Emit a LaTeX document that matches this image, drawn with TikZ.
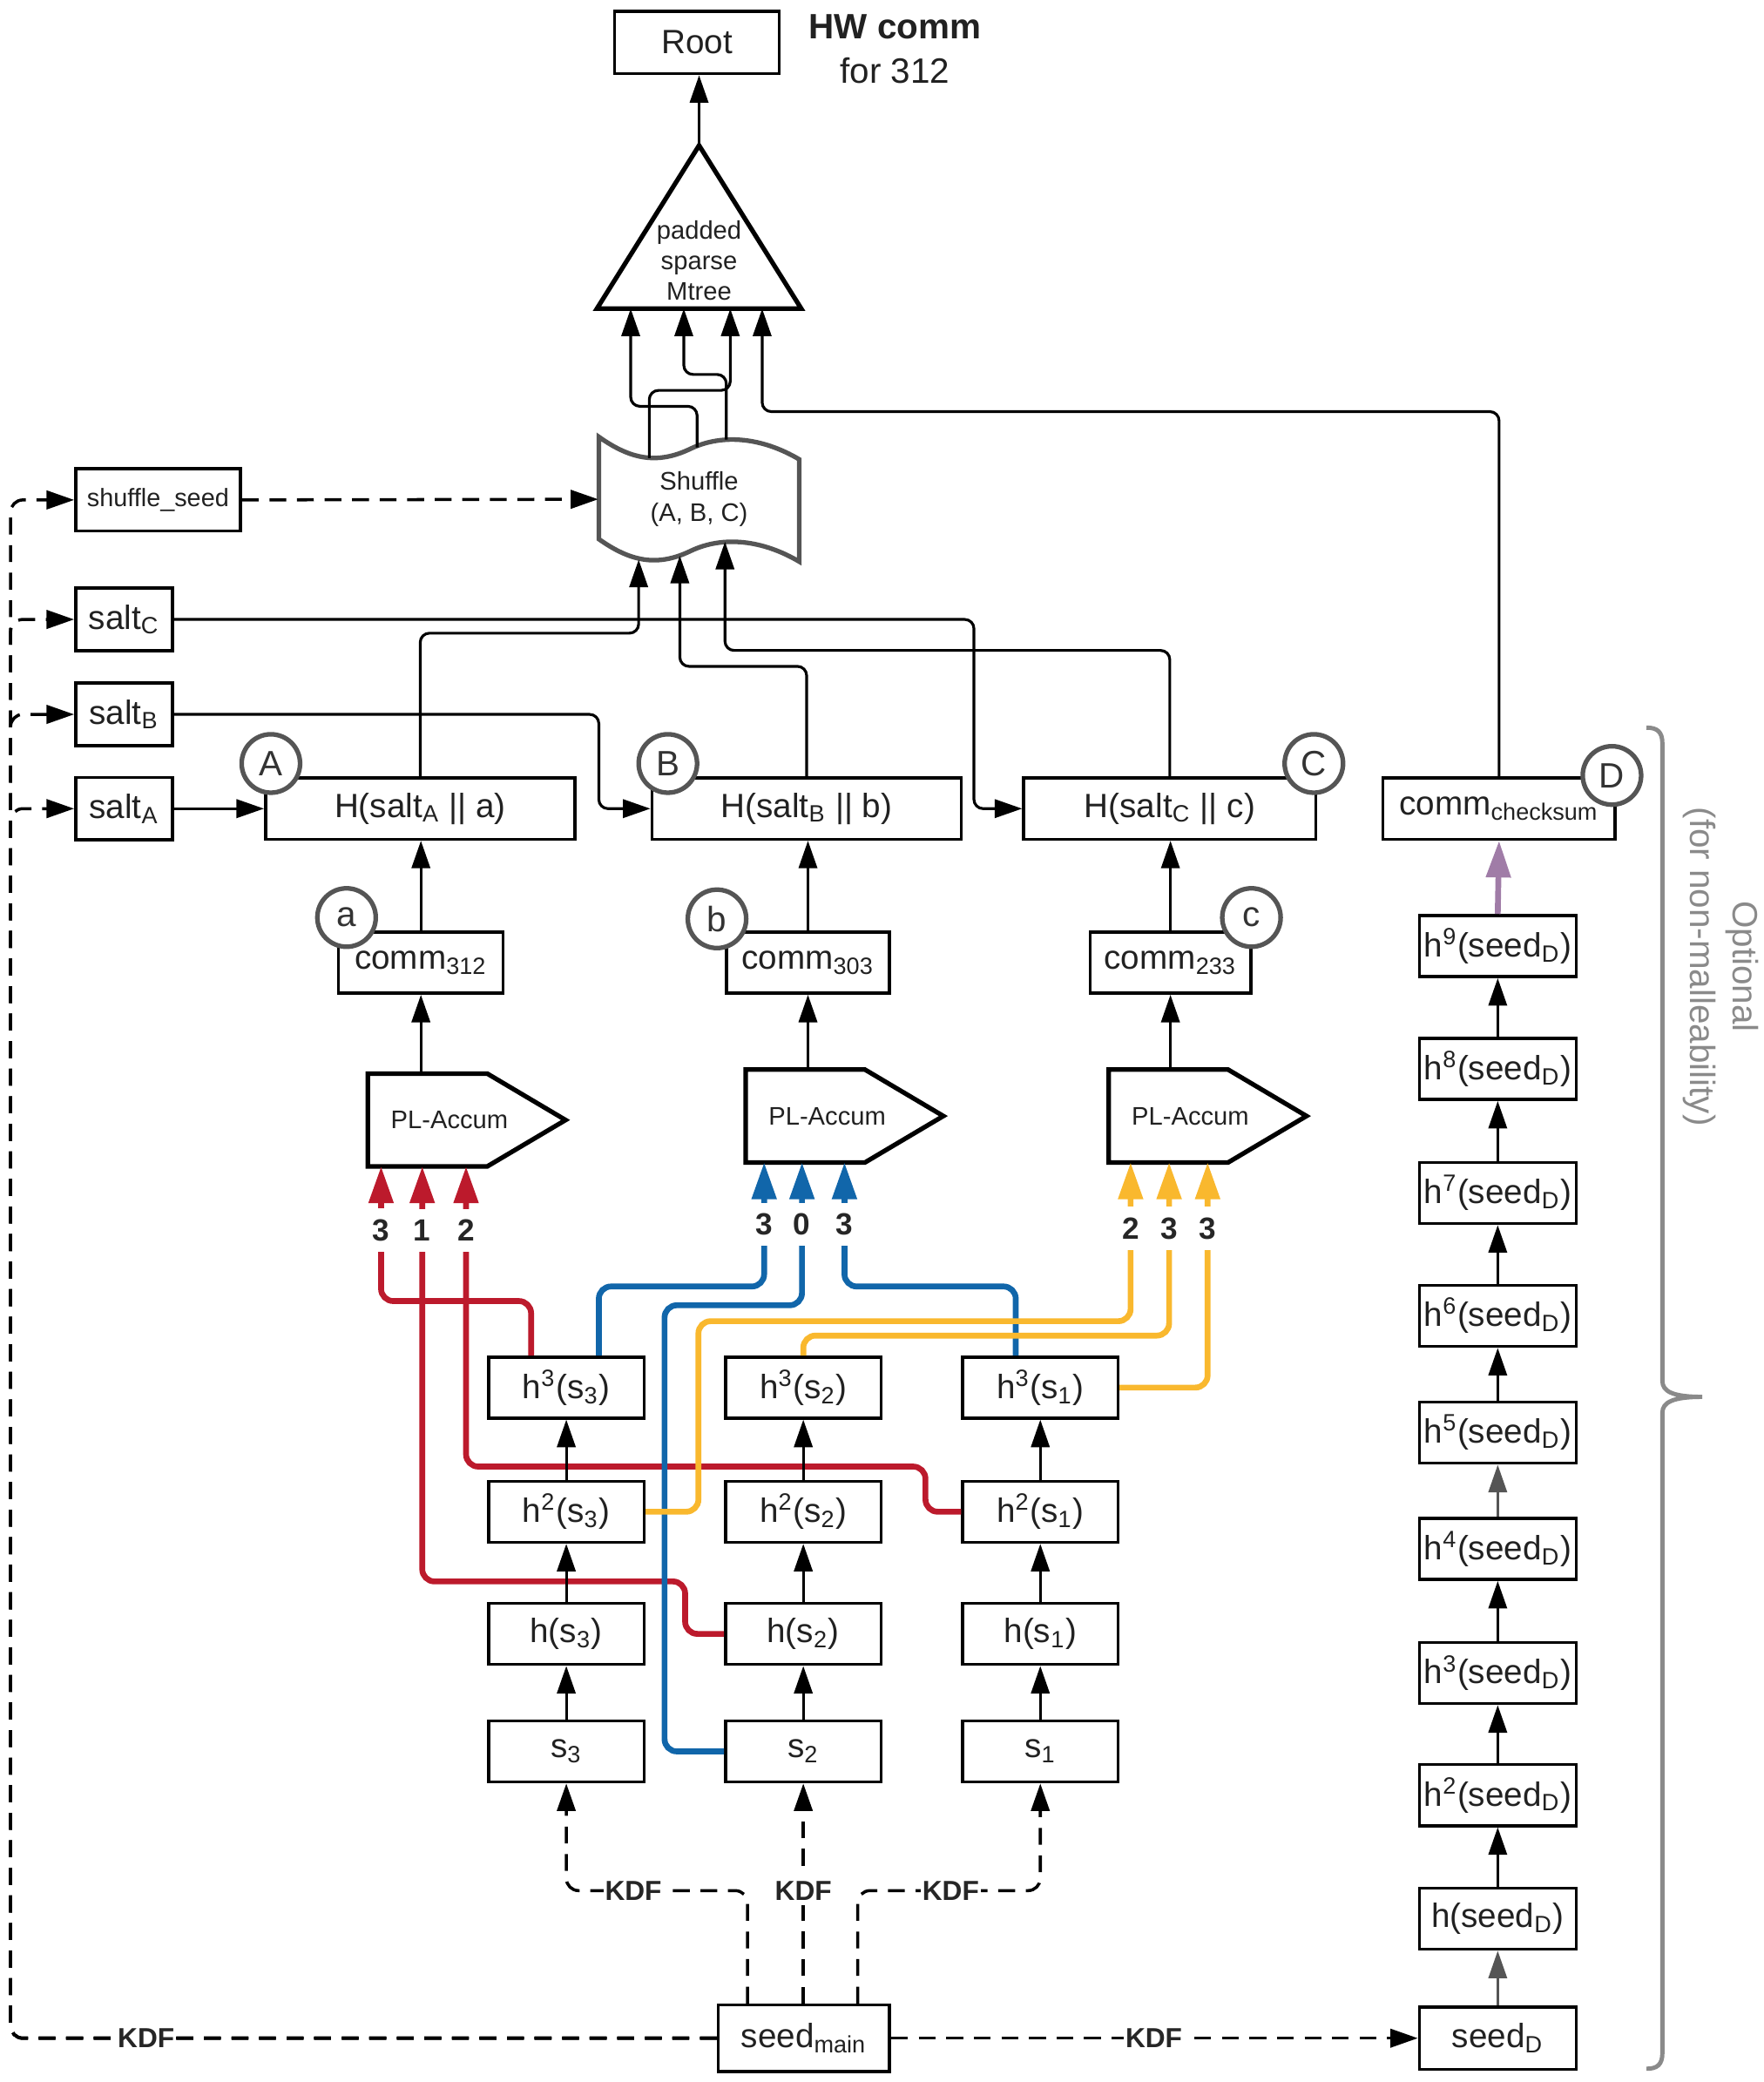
\documentclass[tikz,border=0pt]{standalone}
\usepackage{fontspec}
\setmainfont{Liberation Sans}
\usetikzlibrary{arrows.meta,calc}
\newcommand{\pu}{0.43365pt}
\definecolor{accred}{HTML}{BC1A2C}
\definecolor{accblue}{HTML}{1166AA}
\definecolor{accyellow}{HTML}{F9B82E}
\definecolor{chkpurple}{HTML}{A07CA7}
\definecolor{markgray}{HTML}{555555}
\definecolor{bracegray}{HTML}{8A8A8A}
\tikzset{
  box/.style={draw, line width=1pt, minimum height=46*\pu, inner sep=0pt, text=black!87, font=\fontsize{11}{13}\selectfont},
  chain/.style={box, minimum width=117*\pu},
  dchain/.style={box, minimum width=118*\pu},
  tagcirc/.style={circle, draw=markgray, line width=1.5pt, fill=white, minimum size=44*\pu, inner sep=0pt, text=black!80, font=\fontsize{11.5}{13}\selectfont},
  conn/.style={line width=0.9pt, rounded corners=3pt},
  arr/.style={conn, -{Triangle[length=9pt,width=6pt]}},
  kdfline/.style={line width=1pt, dash pattern=on 5.5pt off 3.5pt, rounded corners=4pt},
  plbox/.style={minimum width=148*\pu, minimum height=69*\pu, inner sep=0pt, label={[font=\fontsize{8.3}{10}\selectfont, text=black!87, xshift=-13*\pu]center:PL-Accum}},
  pent/.style={line width=1.5pt, line join=miter},
  feed/.style={line width=1.9pt, rounded corners=4pt, -{Triangle[length=12pt,width=7.8pt]}},
  num/.style={fill=white, inner xsep=1pt, inner ysep=3.5pt, text=black!85, font=\bfseries\fontsize{10}{11}\selectfont},
  kdflab/.style={fill=white, inner xsep=0.5pt, inner ysep=1.5pt, text=black!85, font=\bfseries\fontsize{9}{11}\selectfont},
}

\begin{document}
\begin{tikzpicture}[x=\pu, y=-\pu]
  \useasboundingbox (0,0) rectangle (1328,1568);
  % root and tree
  \node[box, minimum width=124*\pu, minimum height=47*\pu] (root) at (525,32) {Root};
  \node[align=center, text=black!87, font=\fontsize{11.5}{14.3}\selectfont] (hwcomm) at (674,37) {\textbf{HW comm}\\for 312};
  \node[minimum width=153*\pu, minimum height=122*\pu, inner sep=0pt] (mtree) at (526.5,171) {};
  \draw[line width=1.5pt, line join=miter] (mtree.south west) -- (mtree.north) -- (mtree.south east) -- cycle;
  \node[align=center, text=black!87, font=\fontsize{8.3}{10}\selectfont] (mtreetext) at (526.5,196) {padded\\sparse\\Mtree};
  % shuffle
  \node[align=center, text=black!87, font=\fontsize{8.3}{10.4}\selectfont, minimum width=151*\pu, minimum height=77*\pu, inner sep=0pt] (shuf) at (526.5,376) {Shuffle\\(A, B, C)};
  \begin{scope}[shift={(shuf.center)}]
    \draw[markgray, line width=1.5pt] (-75.5,-47) .. controls (-51.5,-30) and (-31.5,-26) .. (-6.5,-38)
      .. controls (18.5,-50) and (48.5,-46) .. (75.5,-30) -- (75.5,47)
      .. controls (48.5,31) and (18.5,27) .. (-6.5,39)
      .. controls (-31.5,51) and (-51.5,47) .. (-75.5,30) -- cycle;
    \coordinate (shufinA) at (-45.5,45.5);
    \coordinate (shufinB) at (-14.5,42.5);
    \coordinate (shufinC) at (19.5,32);
    \coordinate (shufoutA) at (-37.5,-31);
    \coordinate (shufoutB) at (-1.5,-39);
    \coordinate (shufoutC) at (20.5,-45);
  \end{scope}
  % seeds and salts
  \node[box, minimum width=124*\pu, minimum height=47*\pu, font=\fontsize{8.2}{10}\selectfont] (sseed) at (119,376.5) {shuffle\_seed};
  \node[box, minimum width=73*\pu, minimum height=47*\pu] (saltC) at (93.5,466.5) {salt\textsubscript{C}};
  \node[box, minimum width=73*\pu, minimum height=47*\pu] (saltB) at (93.5,538) {salt\textsubscript{B}};
  \node[box, minimum width=73*\pu, minimum height=47*\pu] (saltA) at (93.5,609) {salt\textsubscript{A}};
  % hashes
  \node[box, minimum width=233*\pu] (hA) at (316.5,609) {H(salt\textsubscript{A} || a)};
  \node[box, minimum width=233*\pu] (hB) at (607.5,609) {H(salt\textsubscript{B} || b)};
  \node[box, minimum width=220*\pu] (hC) at (881,609) {H(salt\textsubscript{C} || c)};
  \node[box, minimum width=124*\pu] (cA) at (317,725) {comm\textsubscript{312}};
  \node[box, minimum width=123*\pu] (cB) at (608.5,725) {comm\textsubscript{303}};
  \node[box, minimum width=121*\pu] (cC) at (881.5,725) {comm\textsubscript{233}};
  \node[box, minimum width=175*\pu] (chk) at (1129,609) {comm\textsubscript{checksum}};
  % accumulators
  \node[plbox] (plA) at (351.5,843.5) {};
  \node[plbox] (plB) at (636,840.5) {};
  \node[plbox] (plC) at (909.5,840.5) {};
  \draw[pent] (plA.north west) -- ($(plA.north east)+(-59,0)$) -- (plA.east) -- ($(plA.south east)+(-59,0)$) -- (plA.south west) -- cycle;
  \draw[pent] (plB.north west) -- ($(plB.north east)+(-59,0)$) -- (plB.east) -- ($(plB.south east)+(-59,0)$) -- (plB.south west) -- cycle;
  \draw[pent] (plC.north west) -- ($(plC.north east)+(-59,0)$) -- (plC.east) -- ($(plC.south east)+(-59,0)$) -- (plC.south west) -- cycle;
  % hash chains
  \node[chain] (h3s3) at (426.5,1045) {h\textsuperscript{3}(s\textsubscript{3})};
  \node[chain] (h2s3) at (426.5,1138.5) {h\textsuperscript{2}(s\textsubscript{3})};
  \node[chain] (hs3) at (426.5,1230.5) {h(s\textsubscript{3})};
  \node[chain] (s3) at (426.5,1319) {s\textsubscript{3}};
  \node[chain] (h3s2) at (605,1045) {h\textsuperscript{3}(s\textsubscript{2})};
  \node[chain] (h2s2) at (605,1138.5) {h\textsuperscript{2}(s\textsubscript{2})};
  \node[chain] (hs2) at (605,1230.5) {h(s\textsubscript{2})};
  \node[chain] (s2) at (605,1319) {s\textsubscript{2}};
  \node[chain] (h3s1) at (783.5,1045) {h\textsuperscript{3}(s\textsubscript{1})};
  \node[chain] (h2s1) at (783.5,1138.5) {h\textsuperscript{2}(s\textsubscript{1})};
  \node[chain] (hs1) at (783.5,1230.5) {h(s\textsubscript{1})};
  \node[chain] (s1) at (783.5,1319) {s\textsubscript{1}};
  \node[box, minimum width=129*\pu, minimum height=50*\pu] (seedmain) at (605.5,1535) {seed\textsubscript{main}};
  % checksum chain
  \node[dchain, minimum height=47*\pu] (seedD) at (1128,1535) {seed\textsubscript{D}};
  \node[dchain] (hD1) at (1128,1445) {h(seed\textsubscript{D})};
  \node[dchain] (hD2) at (1128,1352) {h\textsuperscript{2}(seed\textsubscript{D})};
  \node[dchain] (hD3) at (1128,1260) {h\textsuperscript{3}(seed\textsubscript{D})};
  \node[dchain] (hD4) at (1128,1166.5) {h\textsuperscript{4}(seed\textsubscript{D})};
  \node[dchain] (hD5) at (1128,1079) {h\textsuperscript{5}(seed\textsubscript{D})};
  \node[dchain] (hD6) at (1128,991) {h\textsuperscript{6}(seed\textsubscript{D})};
  \node[dchain] (hD7) at (1128,898.5) {h\textsuperscript{7}(seed\textsubscript{D})};
  \node[dchain] (hD8) at (1128,805) {h\textsuperscript{8}(seed\textsubscript{D})};
  \node[dchain] (hD9) at (1128,712.5) {h\textsuperscript{9}(seed\textsubscript{D})};

  % upper connectors
  \draw[arr] (mtree.north) -- (mtree.north |- root.south);
  \draw[arr] (shufoutB) -- ++(0,-31) -| (475,0 |- mtree.south);
  \draw[arr] (shufoutA) -- ++(0,-51) -| (550,0 |- mtree.south);
  \draw[arr] (shufoutC) -- ++(0,-49) -| (515,0 |- mtree.south);
  \draw[arr] (chk.north) |- (574,310) -- (574,0 |- mtree.south);
  \draw[arr] (hA.north) -- ++(0,-108) -| (shufinA);
  \draw[arr] (hB.north) -- ++(0,-83) -| (shufinB);
  \draw[arr] (hC.north) -- ++(0,-95) -| (shufinC);
  \draw[arr, kdfline] (sseed.east) -- (shuf.west);
  \draw[arr] (saltA.east) -- (hA.west);
  \draw[arr] (saltB.east) -| (451,0 |- hB.west) -- (hB.west);
  \draw[arr] (saltC.east) -| (733.5,0 |- hC.west) -- (hC.west);
  \draw[arr] (cA.north) -- (cA.north |- hA.south);
  \draw[arr] (cB.north) -- (cB.north |- hB.south);
  \draw[arr] (cC.north) -- (cC.north |- hC.south);
  \draw[arr] (cA.south |- plA.north) -- (cA.south);
  \draw[arr] (cB.south |- plB.north) -- (cB.south);
  \draw[arr] (cC.south |- plC.north) -- (cC.south);

  % position feeds
  \draw[feed, accred] (400,0 |- h3s3.north) -- ++(0,-41) -| (287,0 |- plA.south);
  \draw[feed, accred] (hs2.west) -| (516,1191) -| (318,0 |- plA.south);
  \draw[feed, accred] (h2s1.west) -| (697,1104.5) -| (351,0 |- plA.south);
  \draw[feed, accblue] (451,0 |- h3s3.north) -- ++(0,-52) -| (575.5,0 |- plB.south);
  \draw[feed, accblue] (s2.west) -| (500.5,983) -| (604,0 |- plB.south);
  \draw[feed, accblue] (765,0 |- h3s1.north) -- ++(0,-52) -| (636,0 |- plB.south);
  \draw[feed, accyellow] (h2s3.east) -| (526,995) -| (851.5,0 |- plC.south);
  \draw[feed, accyellow] (h3s2.north) -- ++(0,-15) -| (880.5,0 |- plC.south);
  \draw[feed, accyellow] (h3s1.east) -| (909.5,0 |- plC.south);
  \node[num] (nA1) at (287,926.5) {3};
  \node[num] (nA2) at (318,926.5) {1};
  \node[num] (nA3) at (351,926.5) {2};
  \node[num] (nB1) at (575.5,922) {3};
  \node[num] (nB2) at (604,922) {0};
  \node[num] (nB3) at (636,922) {3};
  \node[num] (nC1) at (851.5,925) {2};
  \node[num] (nC2) at (880.5,925) {3};
  \node[num] (nC3) at (909.5,925) {3};

  % chains
  \draw[arr] (s3.north) -- (hs3.south);
  \draw[arr] (hs3.north) -- (h2s3.south);
  \draw[arr] (h2s3.north) -- (h3s3.south);
  \draw[arr] (s2.north) -- (hs2.south);
  \draw[arr] (hs2.north) -- (h2s2.south);
  \draw[arr] (h2s2.north) -- (h3s2.south);
  \draw[arr] (s1.north) -- (hs1.south);
  \draw[arr] (hs1.north) -- (h2s1.south);
  \draw[arr] (h2s1.north) -- (h3s1.south);
  \draw[arr, markgray] (seedD.north) -- (hD1.south);
  \draw[arr] (hD1.north) -- (hD2.south);
  \draw[arr] (hD2.north) -- (hD3.south);
  \draw[arr] (hD3.north) -- (hD4.south);
  \draw[arr, markgray] (hD4.north) -- (hD5.south);
  \draw[arr] (hD5.north) -- (hD6.south);
  \draw[arr] (hD6.north) -- (hD7.south);
  \draw[arr] (hD7.north) -- (hD8.south);
  \draw[arr] (hD8.north) -- (hD9.south);
  \draw[feed, chkpurple] (hD9.north) -- (chk.south);

  % key derivation
  \draw[arr, kdfline] (563,0 |- seedmain.north) -- ++(0,-85) -| (s3.south);
  \draw[arr, kdfline] (s2.south |- seedmain.north) -- (s2.south);
  \draw[arr, kdfline] (646,0 |- seedmain.north) -- ++(0,-85) -| (s1.south);
  \draw[arr, kdfline] (seedmain.east) -- (seedD.west);
  \draw[arr, kdfline] (seedmain.west) -| (8,0 |- sseed.west) -- (sseed.west);
  \draw[arr, kdfline] (seedmain.west) -| (8,0 |- saltC.west) -- (saltC.west);
  \draw[arr, kdfline] (seedmain.west) -| (8,0 |- saltB.west) -- (saltB.west);
  \draw[arr, kdfline] (seedmain.west) -| (8,0 |- saltA.west) -- (saltA.west);
  \node[kdflab] (kdf1) at (477,1424) {KDF};
  \node[kdflab] (kdf2) at (605,1424) {KDF};
  \node[kdflab] (kdf3) at (716,1424) {KDF};
  \node[kdflab] (kdf4) at (869,1535) {KDF};
  \node[kdflab] (kdf5) at (110,1535) {KDF};

  % markers
  \node[tagcirc] (tagA) at (204,575) {A};
  \node[tagcirc] (tagB) at (503,575) {B};
  \node[tagcirc] (tagC) at (989.5,575) {C};
  \node[tagcirc] (tagD) at (1214,584) {D};
  \node[tagcirc] (taga) at (261,691) {a};
  \node[tagcirc] (tagb) at (540,692) {b};
  \node[tagcirc] (tagc) at (942.5,691) {c};

  % optional part
  \draw[bracegray, line width=1.4pt] (1240,548) .. controls (1248,548) and (1252,551) .. (1252,560) -- (1252,1040)
    .. controls (1252,1048) and (1260,1052) .. (1282,1052) .. controls (1260,1052) and (1252,1056) .. (1252,1064)
    -- (1252,1546) .. controls (1252,1555) and (1248,1558) .. (1240,1558);
  \node[rotate=-90, align=center, text=bracegray, font=\fontsize{11.5}{14}\selectfont] (optnote) at (1296,728) {Optional\\(for non-malleability)};
\end{tikzpicture}
\end{document}
